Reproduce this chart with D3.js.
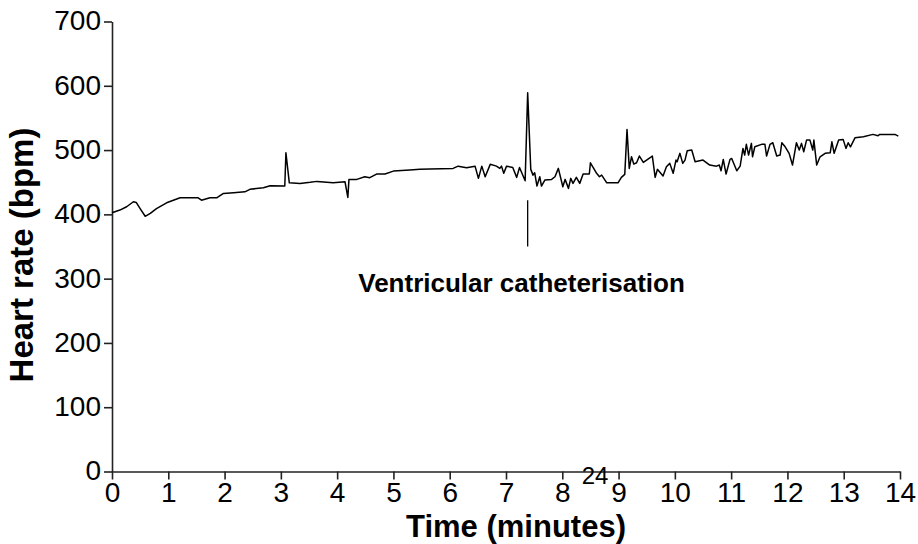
<!DOCTYPE html>
<html><head><meta charset="utf-8">
<script src="https://cdn.jsdelivr.net/npm/d3@7"></script>
<style>
html,body{margin:0;padding:0;background:#fff;}
text{font-family:"Liberation Sans",Arial,sans-serif;fill:#000;}
</style></head>
<body><svg id="chart" width="918" height="544"></svg>
<script>
// ---- data ----
const timeMin = [0,0.14,0.26,0.38,0.43,0.5,0.59,0.68,0.79,0.97,1.21,1.53,1.59,1.74,1.86,1.98,2.16,2.36,2.45,2.69,2.81,3.07,3.09,3.15,3.34,3.52,3.64,3.93,4.14,4.19,4.21,4.35,4.49,4.58,4.70,4.85,5.0,5.29,5.47,5.65,6.06,6.15,6.30,6.45,6.51,6.57,6.63,6.72,6.83,6.89,6.92,6.96,7.01,7.12,7.19,7.24,7.34,7.385,7.44,7.48,7.51,7.55,7.60,7.63,7.69,7.81,7.87,7.93,8.01,8.05,8.11,8.15,8.19,8.25,8.31,8.37,8.48,8.50,8.61,8.66,8.70,8.79,8.99,9.05,9.11,9.15,9.19,9.23,9.27,9.32,9.37,9.44,9.60,9.65,9.69,9.79,9.85,9.91,9.97,10.02,10.04,10.09,10.14,10.18,10.22,10.30,10.36,10.50,10.62,10.74,10.79,10.82,10.86,10.91,10.98,11.01,11.10,11.16,11.21,11.24,11.27,11.31,11.36,11.38,11.42,11.54,11.60,11.63,11.69,11.74,11.81,11.87,11.90,11.96,12.03,12.09,12.16,12.21,12.25,12.29,12.34,12.40,12.45,12.47,12.52,12.58,12.67,12.76,12.79,12.83,12.91,12.99,13.04,13.08,13.12,13.20,13.35,13.52,13.61,13.64,13.91,13.97];
const heartRate = [402.5,406.7,411.8,419.6,418.6,409,397,401.5,409,418,425.8,425.8,422,425.8,425.8,432.6,433.6,435,438.9,441.4,444.5,444,495.8,449,448,449.8,451.3,449,450.7,426.4,454.4,454.4,458.5,457,462.7,462.7,467.3,468.9,470,470.4,471.5,475,472.5,475,456,475,458.5,477.8,475,471.5,475,463.8,475,473,457.5,473,452.3,589,470,461,464.7,444,458.5,444,453.3,454.4,458.5,471.5,443,454.4,440.4,456,448.2,457.5,448.2,462.7,462.7,480.2,463.8,458.5,461,449,449,457.5,462.2,532,471.5,489.6,478.2,480.2,490.7,480.9,490.7,457.5,470,459.6,474,479.3,463.8,484.4,481.8,494.9,479.3,484.4,498.9,500,481.8,484.4,476.7,475,476.7,467.8,485.5,462.7,485.5,487,467.8,475,502.6,492.2,508.9,492.2,510.4,489.6,505.1,508.9,508.9,490.7,508.9,511.4,490.7,492.2,511.4,505.1,494.9,476.7,511.4,500,510.4,497.4,515.5,515.5,500,515.5,476.7,489.6,494.9,495.8,512.9,494.9,515.5,516.6,502.6,511.4,505.1,519.1,520.7,524.4,522.2,524.4,524.4,521.8];
const xTicks = [0,1,2,3,4,5,6,7,8,9,10,11,12,13,14];
const yTicks = [0,100,200,300,400,500,600,700];
const eventTime = [7.385];
const eventRange = [350, 422];
const eventLabel = ["Ventricular catheterisation"];
const xTitle = "Time (minutes)";
const yTitle = "Heart rate (bpm)";
const pageNumber = "24";

// ---- drawing ----
const svg = d3.select("#chart");
const x = d3.scaleLinear().domain([0,14]).range([112,900]);
const y = d3.scaleLinear().domain([0,700]).range([471.5,21.5]);

const xAxis = svg.append("g").attr("transform","translate(0,471.5)")
  .call(d3.axisBottom(x).tickValues(xTicks).tickFormat(d3.format("d")).tickSize(8).tickSizeOuter(0).tickPadding(3));
const yAxis = svg.append("g").attr("transform","translate(112,0)")
  .call(d3.axisLeft(y).tickValues(yTicks).tickFormat(d3.format("d")).tickSize(8).tickSizeOuter(0).tickPadding(3));
[xAxis,yAxis].forEach(g=>{
  g.selectAll("path,line").attr("stroke","#222").attr("stroke-width",1.6);
  g.selectAll("text").attr("font-size",28).attr("font-family","Liberation Sans, Arial, sans-serif").attr("fill","#000");
});
yAxis.selectAll("text").attr("dy","0.3em");

const pts = timeMin.map((t,i)=>[t,heartRate[i]]);
svg.append("path").datum(pts)
  .attr("fill","none").attr("stroke","#000").attr("stroke-width",1.5).attr("stroke-linejoin","round")
  .attr("d", d3.line().x(d=>x(d[0])).y(d=>y(d[1])));

svg.append("line")
  .attr("x1",x(eventTime[0])).attr("x2",x(eventTime[0]))
  .attr("y1",y(eventRange[0])).attr("y2",y(eventRange[1]))
  .attr("stroke","#000").attr("stroke-width",1.3);

svg.append("text").attr("x",521.5).attr("y",292).attr("text-anchor","middle")
  .attr("font-size",26).attr("font-weight","bold").text(eventLabel[0]);

svg.append("text").attr("x",516).attr("y",537).attr("text-anchor","middle")
  .attr("font-size",31).attr("font-weight","bold").text(xTitle);

svg.append("text").attr("transform","translate(33,255) rotate(-90)").attr("text-anchor","middle")
  .attr("font-size",33).attr("font-weight","bold").text(yTitle);

svg.append("text").attr("x",595).attr("y",484).attr("text-anchor","middle")
  .attr("font-size",24).text(pageNumber);
</script></body></html>
